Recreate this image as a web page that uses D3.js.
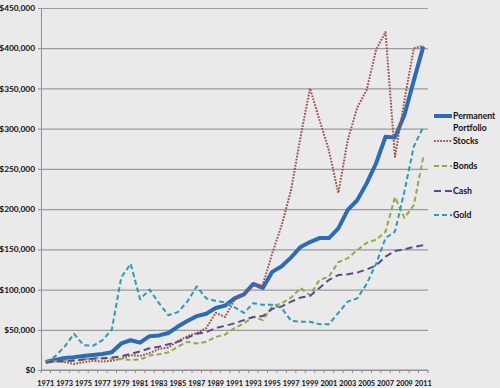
<!DOCTYPE html>
<html>
<head>
	<meta charset="utf-8">
	<title>Permanent Portfolio vs Stocks, Bonds, Cash, Gold</title>
	<style>
		body {
			margin: 0;
			background-color: #eaeaea;
		}
		svg {
			display: block;
		}
		text {
			font-family: Lato, 'Open Sans', sans-serif;
			font-weight: bold;
			fill: #111;
		}
	</style>
</head>
<body>
	<svg width='500' height='388'></svg>
<script src='https://d3js.org/d3.v7.min.js'></script>
<script>
	// growth of $10,000, 1971 - 2011
	let years = d3.range(1971, 2012)

	let permanent = [10000,12400,15000,16000,17400,18600,20000,22000,33000,37000,
		34000,42000,43000,46000,54000,61000,67000,70000,77000,80000,
		89000,94000,107000,102000,122000,129000,140000,153000,159000,164000,
		164000,176000,199000,211000,232000,257000,290000,289000,317000,360000,
		402000]

	let stocks = [10000,11500,10000,7500,9500,11500,10500,11500,14000,18500,
		17500,21000,26000,28000,36000,42000,46000,52000,71000,66000,
		87000,94000,105000,106000,145000,180000,224000,290000,350000,311000,
		273000,220000,286000,326000,348000,398000,420000,265000,335000,400000,
		403000]

	let bonds = [10000,11000,11500,11500,12500,14500,14500,14000,13500,12500,
		13000,18000,19500,22000,29000,35000,33000,35000,41000,44000,
		52000,58000,66000,62000,79000,83000,90000,102000,93000,112000,
		116000,134000,139000,149000,158000,162000,172000,215000,189000,205000,
		265000]

	let cash = [10000,10500,11000,12000,13000,14000,14500,15500,17000,20000,
		23000,27000,29000,32000,35000,40000,45000,47000,52000,55000,
		58000,62000,66000,67000,76000,79000,85000,90000,92000,102000,
		112000,118000,119000,121000,125000,130000,141000,148000,150000,153000,
		155000]

	let gold = [10000,17000,29000,45000,31000,30000,37000,50000,115000,132000,
		88000,100000,83000,68000,72000,85000,104000,89000,86000,84000,
		78000,71000,83000,81000,81000,77000,61000,60000,60000,57000,
		57000,71000,85000,89000,107000,132000,164000,172000,222000,278000,
		302000]

	let yTicks = d3.range(0, 450001, 50000)

	let series = [
		{name: ['Permanent', 'Portfolio'], values: permanent, color: '#2c6cb6', width: 4, dash: null},
		{name: ['Stocks'], values: stocks, color: '#a04e4c', width: 2, dash: '1.7,1.4'},
		{name: ['Bonds'], values: bonds, color: '#8eab4a', width: 2, dash: '5,3'},
		{name: ['Cash'], values: cash, color: '#5d4889', width: 2, dash: '7,4'},
		{name: ['Gold'], values: gold, color: '#2f98b3', width: 2, dash: '5,3'}
	]

	let svg = d3.select('svg')

	let x = d3.scalePoint()
		.domain(years)
		.range([41, 428])
		.padding(0.5)

	let y = d3.scaleLinear()
		.domain([0, 450000])
		.range([370, 8])

	// gridlines + y labels
	svg.append('g')
		.attr('transform', 'translate(41,0)')
		.call(d3.axisLeft(y).tickValues(yTicks).tickSize(-387).tickSizeOuter(0).tickPadding(6)
			.tickFormat(d => '$' + d3.format(',')(d)))
		.call(g => g.select('.domain').attr('stroke', '#8c8c8c'))
		.call(g => g.selectAll('.tick line').attr('stroke', '#9a9a9a').attr('stroke-width', 1.2)
			.attr('x1', -3))
		.call(g => g.selectAll('.tick text').style('font-size', '8.3px').attr('fill', '#111'))

	// x axis with ticks at category boundaries
	let bw = x.step()
	let xAxis = svg.append('g')
	xAxis.append('line')
		.attr('x1', 41).attr('x2', 428)
		.attr('y1', y(0)).attr('y2', y(0))
		.attr('stroke', '#8c8c8c')
	xAxis.selectAll('.bound')
		.data(d3.range(years.length + 1))
		.join('line')
		.attr('x1', i => 41 + i * bw)
		.attr('x2', i => 41 + i * bw)
		.attr('y1', y(0))
		.attr('y2', y(0) + 3)
		.attr('stroke', '#8c8c8c')
	xAxis.selectAll('.lab')
		.data(years.filter((d, i) => i % 2 == 0))
		.join('text')
		.attr('x', d => x(d))
		.attr('y', 385.5)
		.attr('text-anchor', 'middle')
		.style('font-size', '7.3px')
		.text(d => d)

	let line = d3.line()
		.x((d, i) => x(years[i]))
		.y(d => y(d))

	svg.append('g')
		.selectAll('path')
		.data(series)
		.join('path')
		.attr('d', d => line(d.values))
		.attr('fill', 'none')
		.attr('stroke', d => d.color)
		.attr('stroke-width', d => d.width)
		.attr('stroke-dasharray', d => d.dash)
		.attr('stroke-linejoin', 'round')

	// legend
	let legendY = [116, 141, 166, 191, 215]
	let legend = svg.append('g')
		.selectAll('g')
		.data(series)
		.join('g')
		.attr('transform', (d, i) => `translate(434,${legendY[i]})`)

	legend.append('line')
		.attr('x1', 0).attr('x2', 18)
		.attr('stroke', d => d.color)
		.attr('stroke-width', d => d.width)
		.attr('stroke-dasharray', d => d.dash)

	legend.append('text')
		.attr('x', 19)
		.attr('y', 3)
		.style('font-size', '8.7px')
		.selectAll('tspan')
		.data(d => d.name)
		.join('tspan')
		.attr('x', 19)
		.attr('dy', (d, i) => i == 0 ? 0 : 11.5)
		.text(d => d)
</script>
</body>
</html>
